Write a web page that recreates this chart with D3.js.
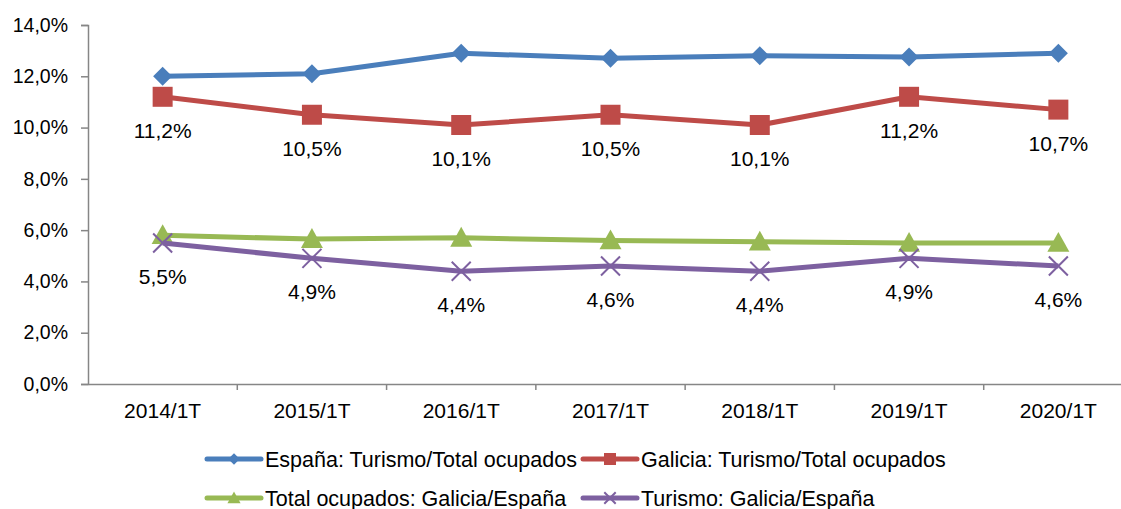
<!DOCTYPE html>
<html>
<head>
<meta charset="utf-8">
<script src="https://cdn.jsdelivr.net/npm/d3@7"></script>
<style>
  body { margin: 0; background: #fff; }
  svg { display: block; font-family: "Liberation Sans", Arial, sans-serif; }
</style>
</head>
<body>
<svg id="drawing_region"></svg>
<script>
const categories = ['2014/1T', '2015/1T', '2016/1T', '2017/1T', '2018/1T', '2019/1T', '2020/1T'];
const espana = [12.0, 12.1, 12.9, 12.7, 12.8, 12.75, 12.9];
const galicia = [11.2, 10.5, 10.1, 10.5, 10.1, 11.2, 10.7];
const totalOcupados = [5.8, 5.65, 5.7, 5.6, 5.55, 5.5, 5.5];
const turismo = [5.5, 4.9, 4.4, 4.6, 4.4, 4.9, 4.6];
const yTicks = [0, 2, 4, 6, 8, 10, 12, 14];

const series = [
    { name: 'España: Turismo/Total ocupados', values: espana, color: '#4a7ebb', marker: 'diamond', labels: false },
    { name: 'Galicia: Turismo/Total ocupados', values: galicia, color: '#be4b48', marker: 'square', labels: true },
    { name: 'Total ocupados: Galicia/España', values: totalOcupados, color: '#98b954', marker: 'triangle', labels: false },
    { name: 'Turismo: Galicia/España', values: turismo, color: '#7d60a0', marker: 'cross', labels: true }
];

const width = 1121, height = 509;
const svg = d3.select('#drawing_region').attr('width', width).attr('height', height);

const x = d3.scaleBand().domain(categories).range([88, 1133]);
const y = d3.scaleLinear().domain([0, 14]).range([384, 25]);
const fmt = v => v.toFixed(1).replace('.', ',') + '%';

// y axis
const yAxis = svg.append('g')
    .attr('transform', 'translate(88,0)')
    .call(d3.axisLeft(y).tickValues(yTicks).tickSize(7).tickPadding(13).tickFormat(fmt));
yAxis.select('.domain').attr('stroke', '#868686').attr('stroke-width', 1.5);
yAxis.selectAll('.tick line').attr('stroke', '#868686').attr('stroke-width', 1.5);
yAxis.selectAll('.tick text').attr('fill', '#000').style('font-size', '19.5px');

// x axis
const xAxis = svg.append('g')
    .attr('transform', 'translate(0,384)')
    .call(d3.axisBottom(x).tickSize(0).tickPadding(19));
xAxis.select('.domain').attr('stroke', '#868686').attr('stroke-width', 1.5);
xAxis.selectAll('.tick text').attr('fill', '#000').style('font-size', '21px');
svg.append('g').selectAll('line')
    .data(categories.slice(1))
    .join('line')
    .attr('x1', d => x(d)).attr('x2', d => x(d))
    .attr('y1', 384).attr('y2', 390)
    .attr('stroke', '#868686').attr('stroke-width', 1.5);

const symbolFor = (m, s) => {
    if (m === 'diamond') return `M0,${-s}L${s},0L0,${s}L${-s},0Z`;
    if (m === 'square') return `M${-s},${-s}H${s}V${s}H${-s}Z`;
    if (m === 'triangle') return `M0,${-s}L${s},${s * 0.8}L${-s},${s * 0.8}Z`;
    return `M${-s},${-s}L${s},${s}M${s},${-s}L${-s},${s}`;
};
const markerSize = { diamond: 9.5, square: 10, triangle: 11, cross: 9.5 };

const drawMarker = (g, m, color, scale) => {
    const s = markerSize[m] * scale;
    const p = g.append('path').attr('d', symbolFor(m, s));
    if (m === 'cross') p.attr('fill', 'none').attr('stroke', color).attr('stroke-width', 2);
    else p.attr('fill', color);
};

const cx = d => x(d) + x.bandwidth() / 2;
const line = d3.line().x((v, i) => cx(categories[i])).y(v => y(v));

series.forEach(s => {
    svg.append('path')
        .datum(s.values)
        .attr('d', line)
        .attr('fill', 'none')
        .attr('stroke', s.color)
        .attr('stroke-width', 5)
        .attr('stroke-linejoin', 'round');
    s.values.forEach((v, i) => {
        const g = svg.append('g').attr('transform', `translate(${cx(categories[i])},${y(v)})`);
        drawMarker(g, s.marker, s.color, 1);
    });
});

series.filter(s => s.labels).forEach(s => {
    svg.append('g').selectAll('text')
        .data(s.values)
        .join('text')
        .attr('x', (v, i) => cx(categories[i]))
        .attr('y', v => y(v) + 41)
        .attr('text-anchor', 'middle')
        .style('font-size', '21px')
        .attr('fill', '#000')
        .text(fmt);
});

// legend
const legendPos = [[207, 459], [583, 459], [207, 498], [583, 498]];
series.forEach((s, i) => {
    const [lx, ly] = legendPos[i];
    const g = svg.append('g').attr('transform', `translate(${lx},${ly})`);
    g.append('line').attr('x1', 0).attr('x2', 54).attr('y1', 0).attr('y2', 0)
        .attr('stroke', s.color).attr('stroke-width', 5).attr('stroke-linecap', 'round');
    drawMarker(g.append('g').attr('transform', 'translate(27,0)'), s.marker, s.color, 0.6);
    g.append('text')
        .attr('x', 58).attr('y', 7.5)
        .style('font-size', '21.5px').attr('fill', '#000')
        .text(s.name);
});
</script>
</body>
</html>
